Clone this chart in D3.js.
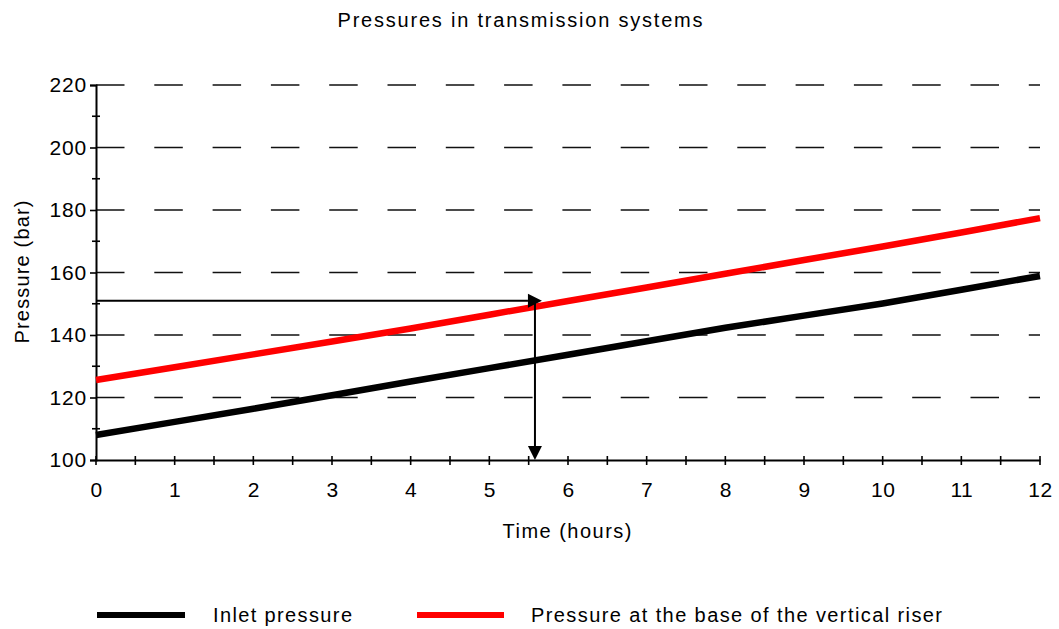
<!DOCTYPE html>
<html>
<head>
<meta charset="utf-8">
<script src="https://cdn.jsdelivr.net/npm/d3@7"></script>
<style>
  html, body { margin: 0; padding: 0; background: #fff; }
  svg text { font-family: "Liberation Sans", Arial, sans-serif; fill: #000; }
</style>
</head>
<body>
<svg id="chart" width="1059" height="629"></svg>
<script>
// Hourly readings over a 12-hour run
const hours = [0, 1, 2, 3, 4, 5, 6, 7, 8, 9, 10, 11, 12];
const inletPressure = [108.0, 112.2, 116.4, 120.7, 125.1, 129.4, 133.7, 138.0, 142.3, 146.2, 150.1, 154.5, 158.9];
const riserPressure = [125.6, 129.7, 133.8, 137.9, 142.1, 146.5, 150.9, 155.2, 159.6, 164.0, 168.3, 172.8, 177.4];

const xTicks = [0, 1, 2, 3, 4, 5, 6, 7, 8, 9, 10, 11, 12];
const xMinorTicks = d3.range(0, 12.01, 0.5);
const yTicks = [100, 120, 140, 160, 180, 200, 220];
const yMinorTicks = [110, 130, 150, 170, 190, 210];
const gridValues = [120, 140, 160, 180, 200, 220];

// Read-off point marked with arrows
const readHour = 5.58;
const readPressure = 151.0;

const seriesNames = ["Inlet pressure", "Pressure at the base of the vertical riser"];
const seriesColors = ["#000000", "#ff0000"];

const svg = d3.select("#chart");

const x = d3.scaleLinear().domain([0, 12]).range([96, 1040]);
const y = d3.scaleLinear().domain([100, 220]).range([460, 85]);

// Title
svg.append("text")
  .attr("x", 520).attr("y", 27)
  .attr("text-anchor", "middle")
  .attr("font-size", 20)
  .attr("textLength", 365).attr("lengthAdjust", "spacing")
  .text("Pressures in transmission systems");

// Dashed horizontal grid
svg.append("g")
  .selectAll("line")
  .data(gridValues)
  .join("line")
  .attr("x1", x(0)).attr("x2", x(12))
  .attr("y1", d => y(d)).attr("y2", d => y(d))
  .attr("stroke", "#111")
  .attr("stroke-width", 1.6)
  .attr("stroke-dasharray", "28.5 29.8");

// Y axis
const yAxis = svg.append("g")
  .attr("transform", `translate(${x(0)},0)`)
  .call(d3.axisLeft(y).tickValues(yTicks).tickSize(6).tickPadding(3).tickFormat(d3.format("d")));
yAxis.select(".domain").attr("stroke", "#000").attr("stroke-width", 2);
yAxis.selectAll(".tick line").attr("stroke", "#000").attr("stroke-width", 1.6);
yAxis.selectAll(".tick text")
  .attr("font-size", 21).attr("letter-spacing", 0.8)
  .attr("font-family", "Liberation Sans, Arial, sans-serif").attr("fill", "#000");

svg.append("g")
  .selectAll("line")
  .data(yMinorTicks)
  .join("line")
  .attr("x1", x(0) - 4).attr("x2", x(0) + 4)
  .attr("y1", d => y(d)).attr("y2", d => y(d))
  .attr("stroke", "#000").attr("stroke-width", 1.6);

// X axis
const xAxis = svg.append("g")
  .attr("transform", `translate(0,${y(100)})`)
  .call(d3.axisBottom(x).tickValues(xTicks).tickSize(0).tickPadding(22).tickFormat(d3.format("d")));
xAxis.select(".domain").attr("stroke", "#000").attr("stroke-width", 2);
xAxis.selectAll(".tick text")
  .attr("font-size", 21).attr("letter-spacing", 0.5)
  .attr("font-family", "Liberation Sans, Arial, sans-serif").attr("fill", "#000");

svg.append("g")
  .selectAll("line")
  .data(xMinorTicks)
  .join("line")
  .attr("x1", d => x(d)).attr("x2", d => x(d))
  .attr("y1", y(100) - 4).attr("y2", y(100) + 5)
  .attr("stroke", "#000").attr("stroke-width", 1.6);

// Axis titles
svg.append("text")
  .attr("x", 567).attr("y", 538)
  .attr("text-anchor", "middle")
  .attr("font-size", 20)
  .attr("textLength", 129).attr("lengthAdjust", "spacing")
  .text("Time (hours)");

svg.append("text")
  .attr("transform", "translate(29,272) rotate(-90)")
  .attr("text-anchor", "middle")
  .attr("font-size", 20)
  .attr("textLength", 143).attr("lengthAdjust", "spacing")
  .text("Pressure (bar)");

// Series lines
const line = d3.line().x((d, i) => x(hours[i])).y(d => y(d));
[inletPressure, riserPressure].forEach((vals, k) => {
  svg.append("path")
    .datum(vals)
    .attr("d", line)
    .attr("fill", "none")
    .attr("stroke", seriesColors[k])
    .attr("stroke-width", 6.5);
});

// Read-off arrows
const ax = x(readHour), ay = y(readPressure), by = y(100);
const head = 14, half = 7;
svg.append("line")
  .attr("x1", x(0)).attr("x2", ax + 7 - head)
  .attr("y1", ay).attr("y2", ay)
  .attr("stroke", "#000").attr("stroke-width", 2);
svg.append("path")
  .attr("d", `M${ax + 7},${ay} L${ax + 7 - head},${ay - half} L${ax + 7 - head},${ay + half} Z`)
  .attr("fill", "#000");
svg.append("line")
  .attr("x1", ax).attr("x2", ax)
  .attr("y1", ay).attr("y2", by - head)
  .attr("stroke", "#000").attr("stroke-width", 2);
svg.append("path")
  .attr("d", `M${ax},${by} L${ax - half},${by - head} L${ax + half},${by - head} Z`)
  .attr("fill", "#000");

// Legend
const legend = [
  { x1: 97, x2: 185, tx: 213, tw: 139 },
  { x1: 417, x2: 504, tx: 531, tw: 411 }
];
legend.forEach((l, k) => {
  svg.append("line")
    .attr("x1", l.x1).attr("x2", l.x2)
    .attr("y1", 615).attr("y2", 615)
    .attr("stroke", seriesColors[k]).attr("stroke-width", 6);
  svg.append("text")
    .attr("x", l.tx).attr("y", 622)
    .attr("font-size", 20)
    .attr("textLength", l.tw).attr("lengthAdjust", "spacing")
    .text(seriesNames[k]);
});
</script>
</body>
</html>
